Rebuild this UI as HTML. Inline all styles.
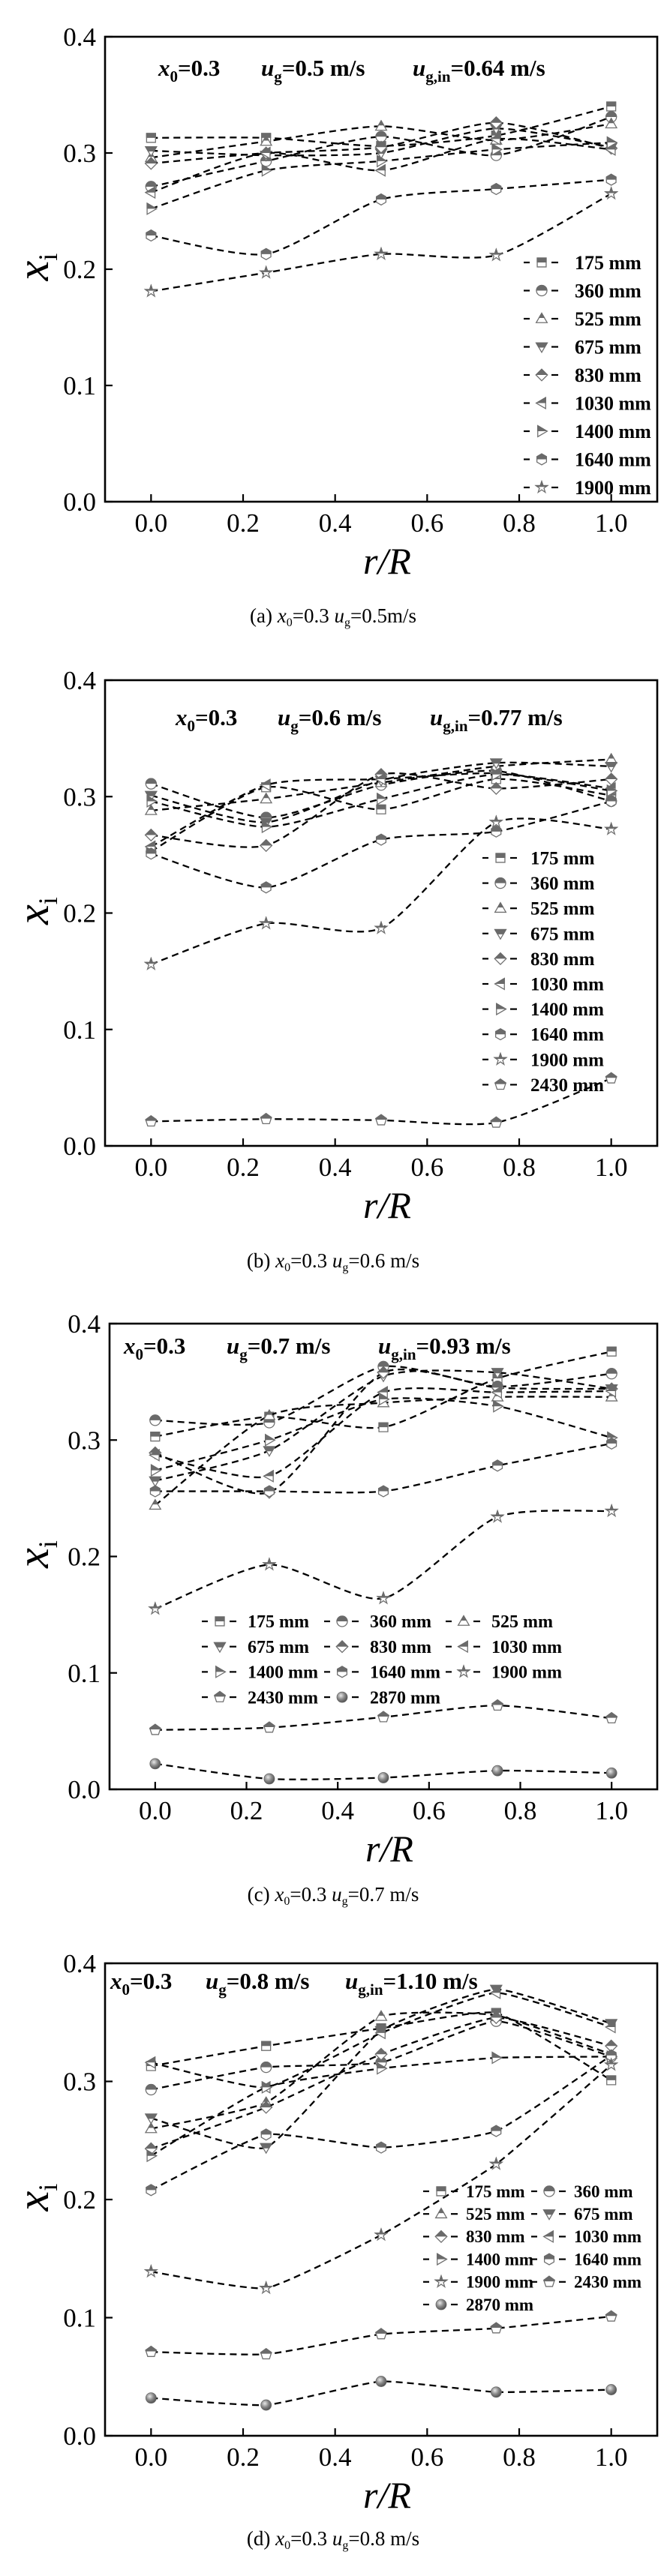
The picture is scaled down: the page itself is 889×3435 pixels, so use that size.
<!DOCTYPE html>
<html><head><meta charset="utf-8"><title>Radial distribution of x_i</title>
<style>
html,body{margin:0;padding:0;background:#fff;}
svg{display:block;font-family:"Liberation Serif",serif;}
</style></head>
<body>
<svg id="chart" xmlns="http://www.w3.org/2000/svg" width="889" height="3435" viewBox="0 0 889 3435">
<defs>
<clipPath id="tophalf" clipPathUnits="objectBoundingBox"><rect x="-0.1" y="-0.1" width="1.2" height="0.6"/></clipPath>
<radialGradient id="sphere" cx="0.38" cy="0.35" r="0.7"><stop offset="0" stop-color="#e8e8e8"/><stop offset="0.5" stop-color="#8a8a8a"/><stop offset="1" stop-color="#4a4a4a"/></radialGradient>
</defs>
<rect width="889" height="3435" fill="#fff"/>
</svg>
<script>
// ---- data ----
const rCategories = [0, 0.25, 0.5, 0.75, 1.0];
const yTickLabels = ["0.0","0.1","0.2","0.3","0.4"];
const yTickValues = [0, 0.1, 0.2, 0.3, 0.4];
const xTickLabels = ["0.0","0.2","0.4","0.6","0.8","1.0"];
const xTickValues = [0, 0.2, 0.4, 0.6, 0.8, 1.0];

const seriesNamesA = ["175 mm","360 mm","525 mm","675 mm","830 mm","1030 mm","1400 mm","1640 mm","1900 mm"];
const a175 = [0.313,0.313,0.306,0.315,0.340];
const a360 = [0.271,0.293,0.314,0.298,0.331];
const a525 = [0.296,0.310,0.323,0.311,0.325];
const a675 = [0.302,0.298,0.300,0.321,0.305];
const a830 = [0.291,0.300,0.305,0.326,0.304];
const a1030 = [0.266,0.300,0.285,0.312,0.303];
const a1400 = [0.252,0.285,0.293,0.303,0.309];
const a1640 = [0.229,0.213,0.260,0.269,0.277];
const a1900 = [0.181,0.197,0.213,0.212,0.265];

const seriesNamesB = ["175 mm","360 mm","525 mm","675 mm","830 mm","1030 mm","1400 mm","1640 mm","1900 mm","2430 mm"];
const b175 = [0.253,0.308,0.289,0.315,0.301];
const b360 = [0.311,0.282,0.310,0.322,0.296];
const b525 = [0.288,0.298,0.312,0.326,0.332];
const b675 = [0.301,0.278,0.314,0.329,0.326];
const b830 = [0.267,0.258,0.319,0.307,0.315];
const b1030 = [0.257,0.310,0.315,0.320,0.307];
const b1400 = [0.296,0.274,0.298,0.319,0.305];
const b1640 = [0.251,0.222,0.263,0.270,0.296];
const b1900 = [0.156,0.191,0.187,0.278,0.272];
const b2430 = [0.021,0.023,0.022,0.020,0.058];

const seriesNamesC = ["175 mm","360 mm","525 mm","675 mm","830 mm","1030 mm","1400 mm","1640 mm","1900 mm","2430 mm","2870 mm"];
const c175 = [0.303,0.320,0.311,0.353,0.376];
const c360 = [0.317,0.315,0.363,0.346,0.357];
const c525 = [0.244,0.321,0.332,0.337,0.337];
const c675 = [0.265,0.291,0.355,0.358,0.344];
const c830 = [0.289,0.255,0.358,0.345,0.344];
const c1030 = [0.287,0.269,0.341,0.341,0.342];
const c1400 = [0.274,0.300,0.335,0.329,0.302];
const c1640 = [0.256,0.256,0.256,0.278,0.297];
const c1900 = [0.155,0.193,0.164,0.234,0.239];
const c2430 = [0.051,0.053,0.062,0.072,0.061];
const c2870 = [0.022,0.009,0.010,0.016,0.014];

const seriesNamesD = ["175 mm","360 mm","525 mm","675 mm","830 mm","1030 mm","1400 mm","1640 mm","1900 mm","2430 mm","2870 mm"];
const d175 = [0.313,0.330,0.345,0.358,0.301];
const d360 = [0.293,0.312,0.316,0.351,0.321];
const d525 = [0.260,0.282,0.355,0.356,0.323];
const d675 = [0.269,0.244,0.343,0.378,0.349];
const d830 = [0.243,0.278,0.323,0.354,0.330];
const d1030 = [0.316,0.295,0.341,0.375,0.346];
const d1400 = [0.237,0.295,0.311,0.320,0.321];
const d1640 = [0.208,0.255,0.244,0.258,0.322];
const d1900 = [0.139,0.125,0.170,0.230,0.314];
const d2430 = [0.071,0.069,0.086,0.091,0.101];
const d2870 = [0.032,0.026,0.046,0.037,0.039];

const shapes = ["square","circle","up","down","diamond","left","right","hexagon","star","pentagon","sphere"];

// ---- layout ----
const NS = "http://www.w3.org/2000/svg";
const svg = document.getElementById("chart");
function el(tag, attrs, parent){
  const e = document.createElementNS(NS, tag);
  for (const k in attrs) e.setAttribute(k, attrs[k]);
  (parent||svg).appendChild(e);
  return e;
}

const panels = [
  {id:"a", left:140, right:876, top:49, bottom:669, series:[a175,a360,a525,a675,a830,a1030,a1400,a1640,a1900], names:seriesNamesA,
   ann:[211,348,550], annY:101, ug:"0.5", ugin:"0.64", smooth:9,
   leg:{cols:[722], textDx:44, y0:350, dy:37.5, fs:26},
   cap:{y:830, sub:"0.5m/s", lab:"(a)"}},
  {id:"b", left:140, right:876, top:907, bottom:1528, series:[b175,b360,b525,b675,b830,b1030,b1400,b1640,b1900,b2430], names:seriesNamesB,
   ann:[234,370,573], annY:967, ug:"0.6", ugin:"0.77", smooth:9,
   leg:{cols:[667], textDx:40, y0:1144, dy:33.6, fs:25},
   cap:{y:1690, sub:"0.6 m/s", lab:"(b)"}},
  {id:"c", left:146, right:876, top:1765, bottom:2386, series:[c175,c360,c525,c675,c830,c1030,c1400,c1640,c1900,c2430,c2870], names:seriesNamesC,
   ann:[165,302,504], annY:1805, ug:"0.7", ugin:"0.93", smooth:9,
   leg:{cols:[293,456,618], textDx:37, y0:2162, dy:33.7, fs:24},
   cap:{y:2535, sub:"0.7 m/s", lab:"(c)"}},
  {id:"d", left:140, right:876, top:2618, bottom:3248, series:[d175,d360,d525,d675,d830,d1030,d1400,d1640,d1900,d2430,d2870], names:seriesNamesD,
   ann:[147,274,460], annY:2652, ug:"0.8", ugin:"1.10", smooth:14,
   leg:{cols:[588,732], textDx:33, y0:2922, dy:30.2, fs:23},
   cap:{y:3394, sub:"0.8 m/s", lab:"(d)"}}
];

function shapePath(s, cx, cy, r){
  const P = pts => "M" + pts.map(p => (cx+p[0]).toFixed(2)+","+(cy+p[1]).toFixed(2)).join("L") + "Z";
  const poly = (n, rr, a0) => { const o=[]; for(let k=0;k<n;k++){const a=a0+k*2*Math.PI/n; o.push([rr*Math.cos(a), rr*Math.sin(a)]);} return o; };
  switch(s){
    case "square": return P([[-r*0.85,-r*0.85],[r*0.85,-r*0.85],[r*0.85,r*0.85],[-r*0.85,r*0.85]]);
    case "circle": case "sphere": return "M"+(cx-r)+","+cy+"a"+r+","+r+" 0 1,0 "+(2*r)+",0a"+r+","+r+" 0 1,0 "+(-2*r)+",0Z";
    case "up": return P([[0,-r*1.05],[r*1.05,r*0.75],[-r*1.05,r*0.75]]);
    case "down": return P([[0,r*1.05],[r*1.05,-r*0.75],[-r*1.05,-r*0.75]]);
    case "diamond": return P([[0,-r*1.1],[r*1.1,0],[0,r*1.1],[-r*1.1,0]]);
    case "left": return P([[-r*1.05,0],[r*0.75,-r*1.05],[r*0.75,r*1.05]]);
    case "right": return P([[r*1.05,0],[-r*0.75,-r*1.05],[-r*0.75,r*1.05]]);
    case "hexagon": return P(poly(6, r*1.05, -Math.PI/2));
    case "pentagon": return P(poly(5, r*1.08, -Math.PI/2));
    case "star": { const o=[]; for(let k=0;k<10;k++){const a=-Math.PI/2+k*Math.PI/5; const rr=k%2?r*0.45:r*1.15; o.push([rr*Math.cos(a), rr*Math.sin(a)]);} return P(o); }
  }
}

function marker(g, s, cx, cy, r){
  if (s === "sphere"){
    const c = el("circle", {cx:cx, cy:cy, r:r, fill:"url(#sphere)", stroke:"#666", "stroke-width":0.8}, g);
    
    
    return;
  }
  const d = shapePath(s, cx, cy, r);
  const m = el("g", {}, g);
  
  
  el("path", {d:d, fill:"#fff", stroke:"#707070", "stroke-width":1.3}, m);
  el("path", {d:d, fill:"#6a6a6a", stroke:"#6a6a6a", "stroke-width":1.3, "clip-path":"url(#tophalf)"}, m);
}

function splinePath(pts, k){
  let d = "M"+pts[0][0]+","+pts[0][1];
  for (let i=0;i<pts.length-1;i++){
    const p0=pts[i-1]||pts[i], p1=pts[i], p2=pts[i+1], p3=pts[i+2]||p2;
    const c1=[p1[0]+(p2[0]-p0[0])/k, p1[1]+(p2[1]-p0[1])/k];
    const c2=[p2[0]-(p3[0]-p1[0])/k, p2[1]-(p3[1]-p1[1])/k];
    d += "C"+c1[0].toFixed(2)+","+c1[1].toFixed(2)+" "+c2[0].toFixed(2)+","+c2[1].toFixed(2)+" "+p2[0].toFixed(2)+","+p2[1].toFixed(2);
  }
  return d;
}

panels.forEach(p => {
  const g = el("g", {});
  
  
  const xs = v => p.left + (v + 0.1) / 1.2 * (p.right - p.left);
  const ys = v => p.bottom - v / 0.4 * (p.bottom - p.top);

  const frame = el("rect", {x:p.left, y:p.top, width:p.right-p.left, height:p.bottom-p.top, fill:"none", stroke:"#000", "stroke-width":2.6}, g);
  
  

  yTickValues.forEach((v,i) => {
    const t = el("line", {x1:p.left, x2:p.left+10, y1:ys(v), y2:ys(v), stroke:"#000", "stroke-width":2.2}, g);
    
    
    const tx = el("text", {x:p.left-12, y:ys(v)+12, "text-anchor":"end", "font-size":35}, g);
    
    
    tx.textContent = yTickLabels[i];
  });
  xTickValues.forEach((v,i) => {
    const t = el("line", {x1:xs(v), x2:xs(v), y1:p.bottom, y2:p.bottom-10, stroke:"#000", "stroke-width":2.2}, g);
    
    
    const tx = el("text", {x:xs(v), y:p.bottom+40, "text-anchor":"middle", "font-size":35}, g);
    
    
    tx.textContent = xTickLabels[i];
  });

  const xt = el("text", {x:(p.left+p.right)/2+8, y:p.bottom+96, "text-anchor":"middle", "font-size":50, "font-style":"italic"}, g);
  
  
  xt.textContent = "r/R";
  const cy = (p.top+p.bottom)/2 - 3;
  const yt = el("text", {x:0, y:0, transform:"translate(64,"+cy+") rotate(-90)", "text-anchor":"middle", "font-size":60, "font-style":"italic"}, g);
  
  
  yt.innerHTML = 'x<tspan font-style="normal" font-size="36" dy="12">i</tspan>';

  const an = el("text", {y:p.annY, "font-size":31, "font-weight":"bold"}, g);
  
  
  an.innerHTML = '<tspan x="'+p.ann[0]+'" font-style="italic">x</tspan><tspan font-size="21" dy="8">0</tspan><tspan dy="-8">=0.3</tspan>'+
    '<tspan x="'+p.ann[1]+'" font-style="italic">u</tspan><tspan font-size="21" dy="8">g</tspan><tspan dy="-8">='+p.ug+' m/s</tspan>'+
    '<tspan x="'+p.ann[2]+'" font-style="italic">u</tspan><tspan font-size="21" dy="8">g,in</tspan><tspan dy="-8">='+p.ugin+' m/s</tspan>';

  p.series.forEach((vals, si) => {
    const sg = el("g", {}, g);
    
    
    const pts = rCategories.map((r,k) => [xs(r), ys(vals[k])]);
    const ln = el("path", {d:splinePath(pts, p.smooth), fill:"none", stroke:"#000", "stroke-width":2.3, "stroke-dasharray":"9,6"}, sg);
    
    
    pts.forEach(pt => marker(sg, shapes[si], pt[0], pt[1], 7));
  });

  const lg = el("g", {}, g);
  
  
  const nc = p.leg.cols.length;
  p.names.forEach((nm, si) => {
    const col = si % nc, row = Math.floor(si / nc);
    const ix = p.leg.cols[col], iy = p.leg.y0 + row * p.leg.dy;
    const eg = el("g", {}, lg);
    
    
    el("line", {x1:ix-24, x2:ix-16, y1:iy, y2:iy, stroke:"#000", "stroke-width":2.2}, eg);
    el("line", {x1:ix+13, x2:ix+22, y1:iy, y2:iy, stroke:"#000", "stroke-width":2.2}, eg);
    marker(eg, shapes[si], ix, iy, 7);
    const t = el("text", {x:ix+p.leg.textDx, y:iy+p.leg.fs*0.34, "font-size":p.leg.fs, "font-weight":"bold"}, eg);
    
    
    t.textContent = nm;
  });

  const cp = el("text", {x:444, y:p.cap.y, "text-anchor":"middle", "font-size":27}, g);
  
  
  cp.innerHTML = p.cap.lab + ' <tspan font-style="italic">x</tspan><tspan font-size="16" dy="5">0</tspan><tspan dy="-5">=0.3 </tspan><tspan font-style="italic">u</tspan><tspan font-size="16" dy="5">g</tspan><tspan dy="-5">=' + p.cap.sub + '</tspan>';
});
</script>
</body></html>
